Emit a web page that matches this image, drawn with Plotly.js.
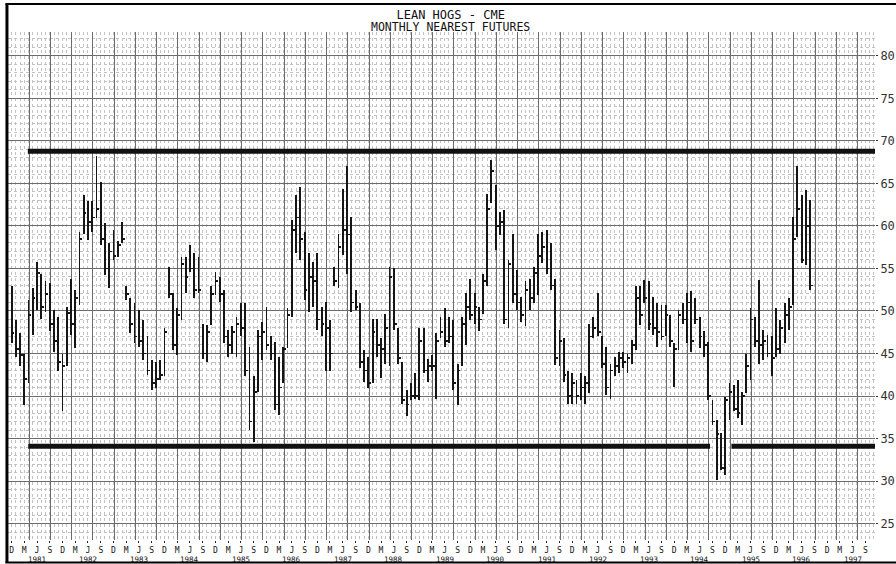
<!DOCTYPE html>
<html>
<head>
<meta charset="utf-8">
<script src="https://cdn.plot.ly/plotly-3.0.1.min.js"></script>
<style>
html,body{margin:0;padding:0;background:#fff;}
#chart{width:896px;height:564px;}
</style>
</head>
<body>
<div id="chart"></div>
<script>
// ---- data (monthly nearest futures, Dec 1980 onward) ----
const firstMonth = [1980, 12];
const highs = [
52.9,48.9,47.4,45.0,51.3,52.7,55.8,54.4,53.5,53.3,50.1,49.3,
45.0,50.5,53.8,52.5,59.3,63.6,62.9,62.9,68.2,65.2,60.3,58.0,
59.5,58.2,60.5,52.9,51.5,50.9,50.1,48.9,47.0,44.2,44.0,44.2,
48.0,55.2,52.1,50.3,56.4,56.4,57.8,56.8,56.4,48.5,48.4,52.9,
54.6,54.0,52.5,47.8,48.2,49.3,50.9,50.9,45.8,42.3,47.8,48.7,
50.5,47.0,46.4,44.6,45.8,50.3,60.7,63.6,64.6,59.3,56.8,55.8,
56.8,50.5,51.1,48.9,55.2,59.1,64.4,67.0,61.1,52.5,50.9,45.4,
44.6,49.1,49.1,46.8,49.7,55.2,55.0,48.0,44.0,40.7,41.5,42.7,
48.0,48.0,44.4,44.8,47.4,49.3,50.3,49.3,48.9,43.8,49.3,52.1,
53.8,52.1,50.5,54.4,63.8,67.8,64.8,61.7,61.9,56.0,59.1,54.8,
51.7,53.5,53.8,55.2,59.1,59.3,59.5,58.0,53.8,47.8,46.8,42.9,
42.7,41.9,42.7,42.3,48.5,49.3,52.1,47.0,45.8,43.8,44.6,45.2,
45.2,45.0,46.6,52.9,52.9,53.6,53.5,51.7,50.9,50.7,50.7,49.5,
46.2,50.1,50.9,52.1,52.3,51.5,49.3,47.6,46.4,39.5,37.2,35.6,
39.9,41.5,41.3,41.9,40.5,45.0,50.3,49.3,53.6,47.8,47.2,47.0,
50.3,48.9,50.9,51.5,61.1,67.0,63.6,64.2,63.1
];
const lows = [
46.2,44.6,43.5,39.0,41.5,47.2,50.1,49.1,49.9,47.6,45.2,42.9,
38.2,43.5,47.2,45.6,50.7,59.1,58.4,59.3,60.9,57.8,54.2,52.7,
56.0,56.4,58.0,51.3,47.4,46.2,45.8,44.2,42.5,40.7,40.9,41.9,
42.3,51.5,45.4,44.8,48.9,52.1,54.6,51.5,52.1,44.4,44.0,48.4,
51.9,51.1,46.2,44.6,45.0,44.6,47.0,42.3,36.0,34.6,40.5,44.2,
45.4,44.2,38.4,37.8,41.5,45.6,49.3,56.8,56.0,51.3,49.9,50.5,
47.8,47.0,42.9,42.9,52.9,52.7,56.6,54.4,49.9,50.1,43.3,41.7,
40.9,41.5,44.6,42.1,43.8,43.5,47.8,43.8,39.1,37.6,39.5,39.7,
39.5,42.7,41.7,42.9,39.7,46.8,45.8,46.2,40.7,38.9,43.5,46.0,
48.9,48.5,47.6,49.7,52.9,62.7,57.2,58.9,48.5,48.0,50.9,50.1,
48.7,48.2,50.1,50.9,51.9,55.6,54.4,52.5,43.6,43.5,41.7,39.1,
39.1,39.1,39.5,39.1,40.3,46.8,47.0,43.3,40.1,39.7,42.3,42.7,
43.3,42.7,43.8,45.4,48.4,50.9,47.8,47.2,45.8,46.6,47.0,45.8,
41.1,45.4,48.5,46.2,45.2,48.5,45.6,44.6,39.5,36.6,30.1,31.3,
30.7,37.2,38.2,37.4,36.6,40.3,41.9,45.8,43.8,44.2,44.6,42.3,
44.6,45.0,46.2,47.8,50.7,58.7,55.6,55.4,52.5
];
const closes = [
47.4,45.5,44.8,42.0,49.5,51.5,54.5,50.5,52.0,48.5,46.5,44.0,
43.5,49.8,48.5,51.5,58.5,61.5,60.5,61.0,62.0,58.5,55.0,57.0,
56.5,57.8,58.5,52.0,48.5,47.0,46.5,45.0,43.0,41.5,42.0,42.5,
47.5,52.0,46.0,49.5,55.5,54.0,55.0,52.5,52.5,45.0,47.5,52.0,
53.5,52.0,47.0,46.0,47.5,48.5,48.0,43.0,37.0,40.5,47.0,47.5,
46.0,45.0,39.0,41.0,45.5,49.5,59.5,61.0,58.5,52.5,54.0,53.5,
49.0,48.5,48.0,45.0,53.5,57.5,59.5,59.0,51.0,50.5,44.0,43.0,
41.5,47.5,46.0,45.5,48.0,54.0,48.5,44.5,39.5,39.0,40.0,40.0,
46.5,43.0,43.5,43.5,46.5,47.5,46.5,47.0,41.5,43.0,48.5,50.5,
49.5,50.5,49.0,53.5,62.0,66.5,60.0,60.5,49.0,55.5,52.0,51.0,
49.5,52.5,51.5,54.5,56.5,57.5,55.0,53.0,44.5,46.5,42.5,40.0,
41.5,40.0,41.0,41.5,47.0,48.0,47.5,43.8,41.0,43.0,43.5,44.5,
44.0,44.5,46.0,51.5,49.5,51.5,48.5,48.0,47.5,47.0,49.5,46.5,
45.5,49.5,49.0,51.0,46.5,49.0,47.0,46.0,40.0,37.0,35.5,31.5,
39.5,40.5,38.5,38.0,40.0,43.5,49.0,46.5,46.0,46.5,45.0,44.5,
45.5,48.0,49.5,50.5,58.5,62.0,56.0,60.0,53.0
];
// horizontal reference lines drawn on the chart
const resistanceLevel = 68.8;
const resistanceSpan = ['1981-03-27', '1997-11-09'];
const supportLevel = 34.1;
const supportSpans = [['1981-03-30', '1994-08-15'], ['1995-01-15', '1997-11-09']];
// tick labels
const quarterLetters = {3: 'M', 6: 'J', 9: 'S', 12: 'D'};
const tickStart = [1980, 12];
const tickEnd = [1997, 9];
const yearLabels = [1981,1982,1983,1984,1985,1986,1987,1988,1989,1990,1991,1992,1993,1994,1995,1996,1997];
const priceTicks = [25,30,35,40,45,50,55,60,65,70,75,80];

// ---- build ----
function ym(y, m) { return y + '-' + String(m).padStart(2, '0') + '-01'; }
const months = highs.map((_, k) => {
  const t = (firstMonth[0] * 12 + firstMonth[1] - 1) + k;
  return ym(Math.floor(t / 12), t % 12 + 1);
});
const ranges = highs.map((h, k) => h - lows[k]);
const tickVals = [], tickText = [];
for (let t = tickStart[0] * 12 + tickStart[1] - 1; t <= tickEnd[0] * 12 + tickEnd[1] - 1; t += 3) {
  const y = Math.floor(t / 12), m = t % 12 + 1;
  tickVals.push(ym(y, m));
  tickText.push(quarterLetters[m]);
}
const tickH = 0.2;

const mono = 'DejaVu Sans Mono, Liberation Mono, monospace';
const DAY = 86400000;

const traces = [
  {type: 'bar', x: months, base: lows, y: ranges, width: 13 * DAY,
   marker: {color: '#151515', line: {width: 0}}, hoverinfo: 'skip', showlegend: false},
  {type: 'bar', x: months, base: closes.map(c => c - tickH / 2), y: closes.map(() => tickH),
   width: 20 * DAY, offset: 0,
   marker: {color: '#151515', line: {width: 0}}, hoverinfo: 'skip', showlegend: false},
  {type: 'scatter', x: [], y: [], xaxis: 'x2', yaxis: 'y', showlegend: false, hoverinfo: 'skip'}
];

// plot area: x 8..875, y 32..540
const xRange = ['1980-11-05', '1997-11-09'];
const shapes = [
  {type: 'line', xref: 'x', yref: 'y', x0: resistanceSpan[0], x1: resistanceSpan[1],
   y0: resistanceLevel, y1: resistanceLevel, line: {color: '#111', width: 5}},
  ...supportSpans.map(s => ({type: 'line', xref: 'x', yref: 'y', x0: s[0], x1: s[1],
   y0: supportLevel, y1: supportLevel, line: {color: '#111', width: 5}})),
  // frame of the printed chart
  {type: 'line', xref: 'paper', yref: 'paper', x0: -0.0012, x1: -0.0012, y0: 1.0551, y1: -0.0443,
   line: {color: '#000', width: 3}},
  {type: 'line', xref: 'paper', yref: 'paper', x0: -0.003, x1: 1.04, y0: 1.0551, y1: 1.0551,
   line: {color: '#000', width: 2}},
  {type: 'line', xref: 'paper', yref: 'paper', x0: -0.003, x1: 1.04, y0: -0.0443, y1: -0.0443,
   line: {color: '#000', width: 2}}
];

const annotations = yearLabels.map(y => ({
  text: String(y), x: ym(y, 6), xref: 'x', y: -0.0385, yref: 'paper',
  xanchor: 'center', yanchor: 'middle', showarrow: false,
  font: {family: mono, size: 7.5, color: '#111'}
}));
annotations.push({
  text: 'MONTHLY NEAREST FUTURES', x: 0.5104, xref: 'paper', y: 1.0108, yref: 'paper',
  xanchor: 'center', yanchor: 'middle', showarrow: false,
  font: {family: mono, size: 11.5, color: '#111'}
});

const layout = {
  width: 896, height: 564,
  margin: {l: 8, r: 21, t: 32, b: 24, pad: 0},
  paper_bgcolor: '#fff', plot_bgcolor: '#fff',
  barmode: 'overlay', bargap: 0,
  showlegend: false,
  title: {text: 'LEAN HOGS - CME', x: 0.503, xref: 'container', xanchor: 'center',
          y: 0.9745, yref: 'container', yanchor: 'middle',
          font: {family: mono, size: 12, color: '#111'}},
  xaxis: {
    type: 'date', range: xRange, tickmode: 'array', tickvals: tickVals, ticktext: tickText,
    ticks: 'outside', ticklen: 2, tickcolor: '#222', tickwidth: 1,
    tickfont: {family: mono, size: 8, color: '#111'},
    showgrid: false, zeroline: false, showline: false, fixedrange: true
  },
  xaxis2: {
    type: 'date', overlaying: 'x', matches: 'x', range: xRange, side: 'bottom',
    tickmode: 'linear', tick0: '1981-04-06', dtick: 'M5',
    showticklabels: false, ticks: '',
    showgrid: true, gridcolor: '#6c6c6c', gridwidth: 1,
    minor: {tickmode: 'linear', dtick: 'M1', tick0: '1980-12-01', showgrid: true,
            gridcolor: '#c2c2c2', gridwidth: 1, griddash: '3px,3px', ticks: ''},
    zeroline: false, showline: false
  },
  yaxis: {
    side: 'right', range: [23.06, 82.82], tickmode: 'array', tickvals: priceTicks,
    ticks: 'outside', ticklen: 2, tickcolor: '#333', tickwidth: 1,
    tickfont: {family: mono, size: 12, color: '#333'},
    showgrid: true, gridcolor: '#6c6c6c', gridwidth: 1,
    minor: {tickmode: 'linear', dtick: 1, tick0: 0, showgrid: true,
            gridcolor: '#c2c2c2', gridwidth: 1, griddash: '3px,3px', ticks: ''},
    zeroline: false, showline: false, fixedrange: true
  },
  shapes: shapes,
  annotations: annotations
};

Plotly.newPlot('chart', traces, layout, {displayModeBar: false, staticPlot: true});
</script>
</body>
</html>
